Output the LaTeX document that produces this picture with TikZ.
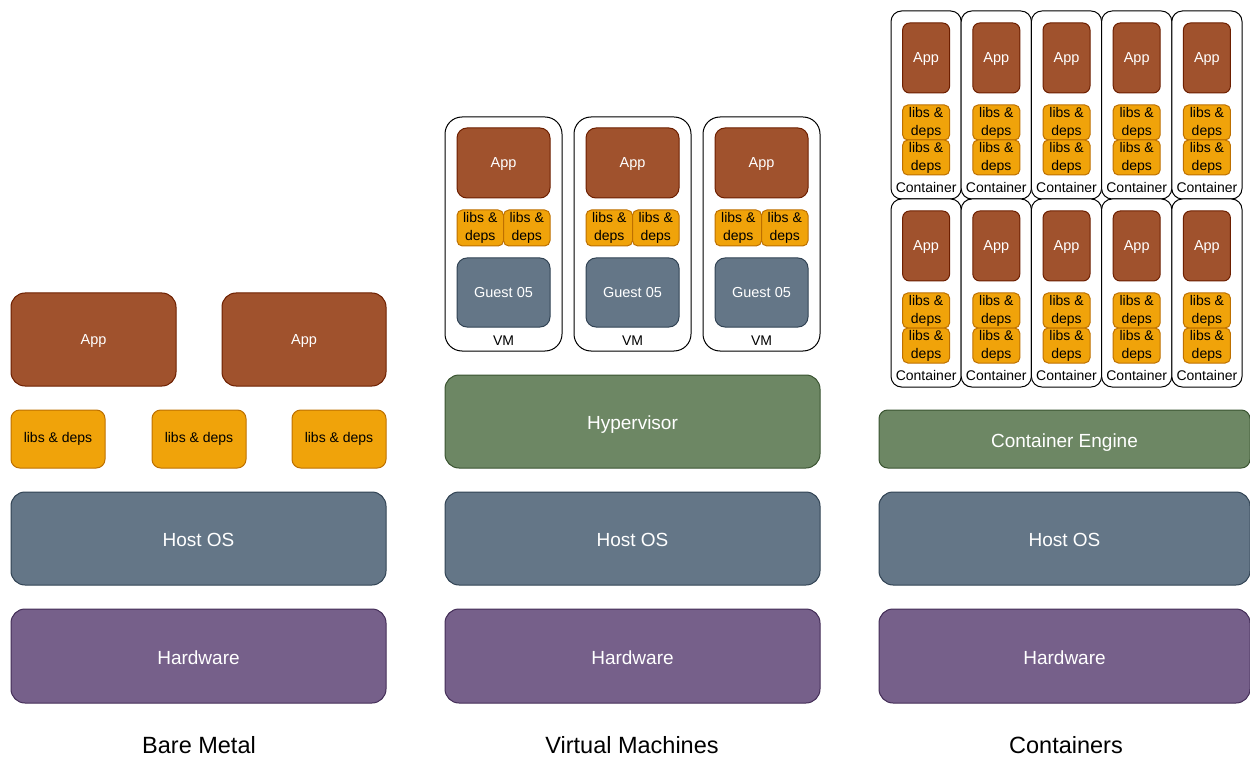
\documentclass[tikz,border=0pt]{standalone}
\usepackage{fontspec}
\setmainfont{Liberation Sans}
\definecolor{appfill}{HTML}{A0522D}\definecolor{appline}{HTML}{6D1F00}
\definecolor{libfill}{HTML}{F0A30A}\definecolor{libline}{HTML}{BD7000}
\definecolor{osfill}{HTML}{647687}\definecolor{osline}{HTML}{314354}
\definecolor{hwfill}{HTML}{76608A}\definecolor{hwline}{HTML}{432D57}
\definecolor{hvfill}{HTML}{6D8764}\definecolor{hvline}{HTML}{3A5431}
\tikzset{
  blk/.style={draw, line width=1pt, anchor=north west, inner sep=0pt, outer sep=0pt, align=center},
  smallline/.style={text height=9.5pt, text depth=0pt},
  bigline/.style={text height=16pt, text depth=0pt},
  appbox/.style={blk, smallline, fill=appfill, draw=appline, text=white, font=\fontsize{14.5}{17}\selectfont},
  libbox/.style={blk, fill=libfill, draw=libline, text=black, font=\fontsize{14}{18}\selectfont},
  osbox/.style={blk, bigline, fill=osfill, draw=osline, text=white, font=\fontsize{19}{22}\selectfont},
  guestbox/.style={blk, smallline, fill=osfill, draw=osline, text=white, font=\fontsize{14.5}{17}\selectfont},
  hwbox/.style={blk, bigline, fill=hwfill, draw=hwline, text=white, font=\fontsize{19}{22}\selectfont},
  hvbox/.style={blk, bigline, fill=hvfill, draw=hvline, text=white, font=\fontsize{19}{22}\selectfont},
  shell/.style={blk, fill=white, draw=black},
  tag/.style={inner sep=0pt, font=\fontsize{14}{17}\selectfont, text=black},
  caption/.style={inner sep=0pt, font=\fontsize{23.5}{28}\selectfont, text=black},
}
\begin{document}
\begin{tikzpicture}[x=1pt,y=-1pt]
\useasboundingbox (0,0) rectangle (1250,759);

% ---------- Bare metal ----------
\node[appbox, minimum width=165pt, minimum height=93pt, rounded corners=14pt] (bmapp1) at (11,293) {App};
\node[appbox, minimum width=164pt, minimum height=93pt, rounded corners=14pt] (bmapp2) at (222,293) {App};
\node[libbox, minimum width=94pt, minimum height=58pt, rounded corners=8.7pt] (bmlib1) at (11,410) {libs \& deps};
\node[libbox, minimum width=94pt, minimum height=58pt, rounded corners=8.7pt] (bmlib2) at (152,410) {libs \& deps};
\node[libbox, minimum width=94pt, minimum height=58pt, rounded corners=8.7pt] (bmlib3) at (292,410) {libs \& deps};
\node[osbox, minimum width=375pt, minimum height=93pt, rounded corners=14pt] (bmos) at (11,492) {Host OS};
\node[hwbox, minimum width=375pt, minimum height=94pt, rounded corners=14pt] (bmhw) at (11,609) {Hardware};
\node[caption] (bmcap) at (199,745) {Bare Metal};

% ---------- Virtual machines ----------
\foreach \i in {0,1,2} {
  \pgfmathsetmacro\vx{445+129*\i}
  \node[shell, minimum width=117pt, minimum height=234pt, rounded corners=17pt] (vm\i) at (\vx,117) {};
  \node[appbox, minimum width=93pt, minimum height=70pt, rounded corners=10pt] (vmapp\i) at (\vx+12,128) {App};
  \node[libbox, minimum width=46.5pt, minimum height=36pt, rounded corners=5.4pt] (vmliba\i) at (\vx+12,210) {libs \&\\deps};
  \node[libbox, minimum width=46.5pt, minimum height=36pt, rounded corners=5.4pt] (vmlibb\i) at (\vx+58.5,210) {libs \&\\deps};
  \node[guestbox, minimum width=93pt, minimum height=69pt, rounded corners=10pt] (vmguest\i) at (\vx+12,258) {Guest 05};
  \node[tag] (vmtag\i) at (\vx+58.5,340.5) {VM};
}
\node[hvbox, minimum width=375pt, minimum height=93pt, rounded corners=14pt] (hyper) at (445,375) {Hypervisor};
\node[osbox, minimum width=375pt, minimum height=93pt, rounded corners=14pt] (vmos) at (445,492) {Host OS};
\node[hwbox, minimum width=375pt, minimum height=94pt, rounded corners=14pt] (vmhw) at (445,609) {Hardware};
\node[caption] (vmcap) at (632,745) {Virtual Machines};

% ---------- Containers ----------
\foreach \r/\ty in {0/11,1/199} {
  \foreach \c in {0,...,4} {
    \pgfmathsetmacro\cx{891+70.2*\c}
    \node[shell, minimum width=70.2pt, minimum height=188pt, rounded corners=10.5pt] (ct\r\c) at (\cx,\ty) {};
    \node[appbox, minimum width=47pt, minimum height=70pt, rounded corners=7pt] (ctapp\r\c) at (\cx+11.6,\ty+12) {App};
    \node[libbox, minimum width=47pt, minimum height=35pt, rounded corners=5.2pt] (ctliba\r\c) at (\cx+11.6,\ty+94) {libs \&\\deps};
    \node[libbox, minimum width=47pt, minimum height=35pt, rounded corners=5.2pt] (ctlibb\r\c) at (\cx+11.6,\ty+129) {libs \&\\deps};
    \node[tag] (cttag\r\c) at (\cx+35.1,\ty+176) {Container};
  }
}
\node[hvbox, minimum width=371pt, minimum height=58pt, rounded corners=8.7pt] (engine) at (879,410) {Container Engine};
\node[osbox, minimum width=371pt, minimum height=93pt, rounded corners=14pt] (ctos) at (879,492) {Host OS};
\node[hwbox, minimum width=371pt, minimum height=94pt, rounded corners=14pt] (cthw) at (879,609) {Hardware};
\node[caption] (ctcap) at (1066,745) {Containers};
\end{tikzpicture}
\end{document}
